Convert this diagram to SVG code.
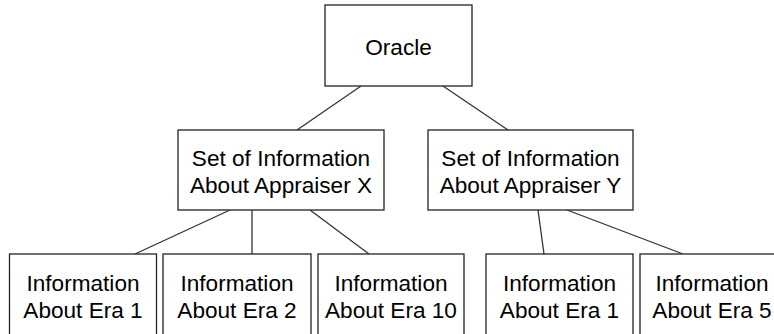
<svg xmlns="http://www.w3.org/2000/svg" width="774" height="334" viewBox="0 0 774 334">
<style>
.box{fill:#fff;stroke:#222;stroke-width:1.3}
.lbl{font-family:"Liberation Sans",Arial,sans-serif;font-size:22.6px;fill:#000;text-anchor:middle}
.edge{stroke:#333;stroke-width:1.3;fill:none}
</style>
<rect width="774" height="334" fill="#fff"/>
<g id="connectors">
<line class="edge" x1="361" y1="86" x2="297" y2="130"/>
<line class="edge" x1="443" y1="86" x2="508" y2="130"/>
<line class="edge" x1="230" y1="210" x2="135" y2="254"/>
<line class="edge" x1="252" y1="210" x2="252" y2="254"/>
<line class="edge" x1="310" y1="210" x2="369" y2="254"/>
<line class="edge" x1="538" y1="210" x2="544" y2="254"/>
<line class="edge" x1="567" y1="210" x2="683" y2="254"/>
</g>
<g id="oracle">
<rect class="box" x="325" y="5" width="147" height="81"/>
<text class="lbl" x="398.5" y="55">Oracle</text>
</g>
<g id="appraiserX">
<rect class="box" x="178" y="130" width="206" height="80"/>
<text class="lbl" x="281" y="165.7">Set of Information</text>
<text class="lbl" x="281" y="193">About Appraiser X</text>
</g>
<g id="appraiserY">
<rect class="box" x="428" y="130" width="205" height="80"/>
<text class="lbl" x="530.5" y="165.7">Set of Information</text>
<text class="lbl" x="530.5" y="193">About Appraiser Y</text>
</g>
<g id="x-era1">
<rect class="box" x="9.5" y="254" width="147" height="90"/>
<text class="lbl" x="83" y="290.7">Information</text>
<text class="lbl" x="83" y="318.3">About Era 1</text>
</g>
<g id="x-era2">
<rect class="box" x="163" y="254" width="148" height="90"/>
<text class="lbl" x="237" y="290.7">Information</text>
<text class="lbl" x="237" y="318.3">About Era 2</text>
</g>
<g id="x-era10">
<rect class="box" x="318" y="254" width="146" height="90"/>
<text class="lbl" x="391" y="290.7">Information</text>
<text class="lbl" x="391" y="318.3">About Era 10</text>
</g>
<g id="y-era1">
<rect class="box" x="486" y="254" width="147" height="90"/>
<text class="lbl" x="559.5" y="290.7">Information</text>
<text class="lbl" x="559.5" y="318.3">About Era 1</text>
</g>
<g id="y-era5">
<rect class="box" x="640" y="254" width="146" height="90"/>
<text class="lbl" x="712" y="290.7">Information</text>
<text class="lbl" x="712" y="318.3">About Era 5</text>
</g>
</svg>
